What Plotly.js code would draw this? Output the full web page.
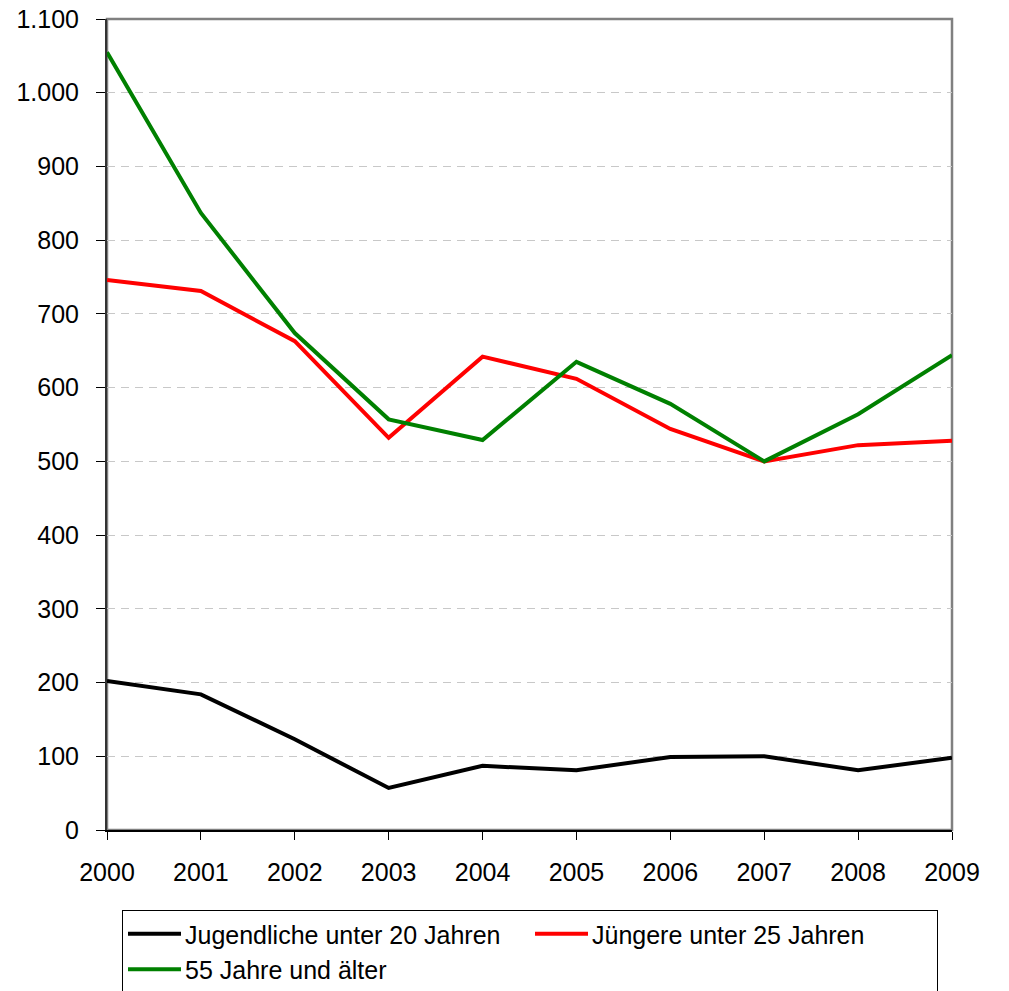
<!DOCTYPE html>
<html>
<head>
<meta charset="utf-8">
<script src="https://cdn.plot.ly/plotly-3.0.1.min.js"></script>
<style>html,body{margin:0;padding:0;background:#fff;}#chart{width:1009px;height:991px;}</style>
</head>
<body>
<div id="chart"></div>
<script>
const years = ['2000','2001','2002','2003','2004','2005','2006','2007','2008','2009'];
const jugendliche = [202, 184, 123, 57, 87, 81, 99, 100, 81, 98];
const juengere = [746, 731, 663, 532, 642, 612, 544, 500, 522, 528];
const aeltere = [1055, 837, 674, 557, 529, 635, 578, 500, 564, 644];
const seriesNames = ['Jugendliche unter 20 Jahren', 'Jüngere unter 25 Jahren', '55 Jahre und älter'];
const yTicks = [0,100,200,300,400,500,600,700,800,900,1000,1100];

const font = "'Liberation Sans', Arial, sans-serif";
const traces = [
  {x: years, y: jugendliche, name: seriesNames[0], mode: 'lines', line: {color: '#000000', width: 4}},
  {x: years, y: juengere, name: seriesNames[1], mode: 'lines', line: {color: '#FF0000', width: 4}},
  {x: years, y: aeltere, name: seriesNames[2], mode: 'lines', line: {color: '#008000', width: 4}}
];
const layout = {
  width: 1009, height: 991,
  margin: {l: 107, r: 57, t: 19, b: 161, pad: 0},
  paper_bgcolor: '#ffffff', plot_bgcolor: '#ffffff',
  separators: ',.',
  font: {family: font, size: 25, color: '#000'},
  showlegend: true,
  xaxis: {
    type: 'category', range: [0, 9], showgrid: false, zeroline: false,
    showline: true, linecolor: '#000', linewidth: 1.5, automargin: false,
    ticks: 'outside', ticklen: 8, tickcolor: '#000', tickwidth: 1,
    ticklabelstandoff: 11, tickfont: {family: font, size: 25}
  },
  yaxis: {
    range: [0, 1100], tickvals: yTicks, tickformat: ',d', automargin: false,
    showgrid: true, gridcolor: '#c8c8c8', griddash: '8px,6px', gridwidth: 1,
    zeroline: false, showline: true, linecolor: '#333', linewidth: 2,
    ticks: 'outside', ticklen: 9, tickcolor: '#000',
    ticklabelstandoff: 12, tickfont: {family: font, size: 25}
  },
  shapes: [{type: 'rect', xref: 'paper', yref: 'paper', x0: 0, x1: 1, y0: 0, y1: 1,
            line: {color: '#808080', width: 2.5}, layer: 'below'}],
  legend: {
    orientation: 'h', xref: 'container', yref: 'container',
    x: 122 / 1009, y: 1 - 910 / 991, xanchor: 'left', yanchor: 'top',
    bordercolor: '#000', borderwidth: 1, bgcolor: '#fff',
    entrywidth: 340, entrywidthmode: 'pixels',
    font: {family: font, size: 25, color: '#000'},
    itemwidth: 52, tracegroupgap: 0
  }
};
Plotly.newPlot('chart', traces, layout, {displayModeBar: false, staticPlot: true}).then(function (gd) {
  // lengthen the legend sample lines to match the reference style
  gd.querySelectorAll('.legend .legendlines path').forEach(function (p) {
    p.setAttribute('d', 'M5,0h53');
  });
});
</script>
</body>
</html>
